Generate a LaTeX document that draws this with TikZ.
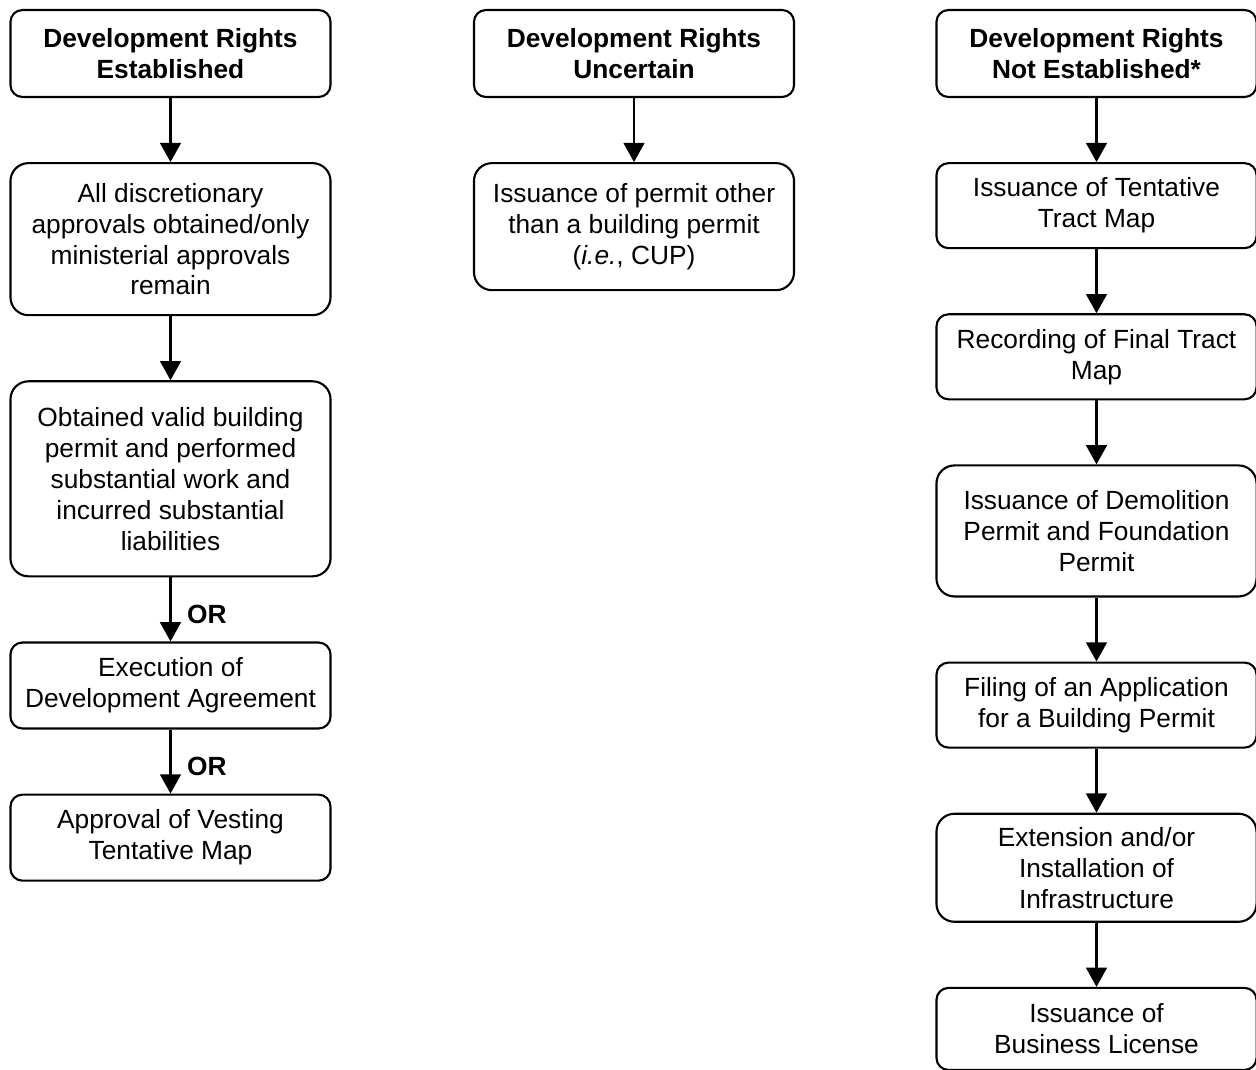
\documentclass[tikz,border=0pt]{standalone}
\usepackage{fontspec}
\setmainfont{Liberation Sans}
\usepackage{tikz}
\usetikzlibrary{arrows.meta,positioning}
\tikzstyle{stage} = [rectangle, rounded corners=0.3cm, minimum width=8cm, minimum height=2.15cm, align=center, draw=black, line width=1.5pt, inner sep=2pt, font=\fontsize{18.7}{22}\selectfont]
\tikzstyle{tall} = [rounded corners=0.45cm]
\tikzstyle{heading} = [stage, minimum height=2.175cm, font=\fontsize{18.7}{22}\selectfont\bfseries]
\tikzstyle{arrow} = [line width=1.5pt, -{Triangle[width=0.52cm,length=0.48cm]}]
\tikzstyle{orlabel} = [right, xshift=0.27cm, yshift=-0.12cm, font=\fontsize{18.7}{22}\selectfont\bfseries]

\begin{document}
\begin{tikzpicture}[x=0.025cm, y=-0.025cm, node distance=1.6cm]
\useasboundingbox (0,0) rectangle (1256,1070);

% Rights established
\node (est) [heading] at (170.5,53.5) {Development Rights\\Established};
\node (disc) [stage, tall, below=of est, minimum height=3.8cm] {All discretionary\\approvals obtained/only\\ministerial approvals\\remain};
\node (work) [stage, tall, below=of disc, minimum height=4.875cm] {Obtained valid building\\permit and performed\\substantial work and\\incurred substantial\\liabilities};
\node (agree) [stage, below=of work] {Execution of\\Development Agreement};
\node (vest) [stage, below=of agree] {Approval of Vesting\\Tentative Map};

% Rights uncertain
\node (unc) [heading] at (634,53.5) {Development Rights\\Uncertain};
\node (cup) [stage, tall, below=of unc, minimum height=3.175cm] {Issuance of permit other\\than a building permit\\(\textit{i.e.}, CUP)};

% Rights not established
\node (notest) [heading] at (1096.5,53.5) {Development Rights\\Not Established*};
\node (ttm) [stage, below=of notest, minimum height=2.125cm] {Issuance of Tentative\\Tract Map};
\node (ftm) [stage, below=of ttm, minimum height=2.125cm] {Recording of Final Tract\\Map};
\node (demo) [stage, tall, below=of ftm, minimum height=3.275cm] {Issuance of Demolition\\Permit and Foundation\\Permit};
\node (bldg) [stage, below=of demo, minimum height=2.125cm] {Filing of an Application\\for a Building Permit};
\node (infra) [stage, tall, below=of bldg, minimum height=2.7cm] {Extension and/or\\Installation of\\Infrastructure};
\node (lic) [stage, below=of infra, minimum height=2.05cm] {Issuance of\\Business License};

% Arrows
\draw[arrow] (est) -- (disc);
\draw[arrow] (disc) -- (work);
\draw[arrow] (work) -- node[orlabel] {OR} (agree);
\draw[arrow] (agree) -- node[orlabel] {OR} (vest);
\draw[arrow] (unc) -- (cup);
\draw[arrow] (notest) -- (ttm);
\draw[arrow] (ttm) -- (ftm);
\draw[arrow] (ftm) -- (demo);
\draw[arrow] (demo) -- (bldg);
\draw[arrow] (bldg) -- (infra);
\draw[arrow] (infra) -- (lic);
\end{tikzpicture}
\end{document}
